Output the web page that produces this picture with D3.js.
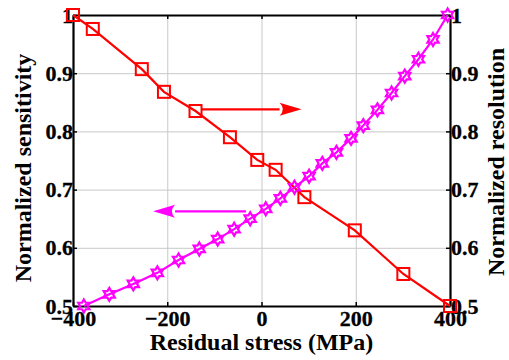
<!DOCTYPE html>
<html>
<head>
<meta charset="utf-8">
<script src="https://cdn.jsdelivr.net/npm/d3@7"></script>
<style>
  body { margin: 0; background: #fff; }
  svg { display: block; font-family: "Liberation Serif", "Times New Roman", serif; font-weight: bold; }
</style>
</head>
<body>
<div class="chart"></div>
<script>
// sensitivity curve (red squares)
var sensStress = [-400, -358, -254, -207, -140, -67, -9, 30, 91, 198, 301, 400];
var sensValue  = [1.0, 0.976, 0.907, 0.868, 0.835, 0.790, 0.751, 0.734, 0.687, 0.630, 0.555, 0.5];

// resolution curve (magenta stars)
var resStress = [-377, -323, -272, -221, -176, -132, -93, -58, -24, 9, 40, 70, 101, 129, 159, 190, 216, 246, 276, 304, 333, 364, 395];
var resValue  = [0.500, 0.520, 0.538, 0.557, 0.579, 0.598, 0.615, 0.632, 0.650, 0.667, 0.685, 0.704, 0.723, 0.745, 0.764, 0.788, 0.810, 0.837, 0.866, 0.895, 0.924, 0.958, 1.0];

var xTicks = [-400, -200, 0, 200, 400];
var yTicks = [0.5, 0.6, 0.7, 0.8, 0.9, 1];

var width = 509, height = 360;
var margin = {top: 15, right: 59, bottom: 54, left: 73};
var w = width - margin.left - margin.right,
    h = height - margin.top - margin.bottom;

var svg = d3.select(".chart").append("svg")
    .attr("width", width)
    .attr("height", height);

var g = svg.append("g")
    .attr("transform", "translate(" + margin.left + "," + margin.top + ")");

var x = d3.scaleLinear().domain([-400, 400]).range([0, w]);
var y = d3.scaleLinear().domain([0.5, 1]).range([h, 0]);

var fmtY = function(d) { return d === 1 ? "1" : d3.format(".1f")(d); };

// grid
g.append("g")
    .attr("class", "grid")
    .attr("transform", "translate(0," + h + ")")
    .call(d3.axisBottom(x).tickValues(xTicks).tickSize(-h).tickFormat(""));
g.append("g")
    .attr("class", "grid")
    .call(d3.axisLeft(y).tickValues(yTicks).tickSize(-w).tickFormat(""));
g.selectAll(".grid .domain").remove();
g.selectAll(".grid line").attr("stroke", "#c8c8c8").attr("stroke-width", 1);

// axes, ticks pointing inward
var ax = g.append("g")
    .attr("transform", "translate(0," + h + ")")
    .call(d3.axisBottom(x).tickValues(xTicks).tickSizeInner(-4).tickSizeOuter(0).tickPadding(4));
var axTop = g.append("g")
    .call(d3.axisTop(x).tickValues(xTicks).tickSizeInner(-4).tickSizeOuter(0).tickFormat(""));
var ayL = g.append("g")
    .call(d3.axisLeft(y).tickValues(yTicks).tickSizeInner(-4).tickSizeOuter(0).tickPadding(0).tickFormat(fmtY));
var ayR = g.append("g")
    .attr("transform", "translate(" + w + ",0)")
    .call(d3.axisRight(y).tickValues(yTicks).tickSizeInner(-4).tickSizeOuter(0).tickPadding(1).tickFormat(fmtY));

[ax, axTop, ayL, ayR].forEach(function(a) {
  a.attr("font-family", "Liberation Serif").attr("font-size", 22).attr("font-weight", "bold");
  a.select(".domain").attr("stroke", "#000").attr("stroke-width", 2.2);
  a.selectAll(".tick line").attr("stroke", "#000").attr("stroke-width", 1.5);
  a.selectAll(".tick text")
      .attr("fill", "#000")
      .style("font-size", "22px")
      .style("font-weight", "bold")
      .attr("stroke", "#000")
      .attr("stroke-width", 0.3);
});

// axis titles
g.append("text")
    .attr("x", w / 2)
    .attr("y", h + 44)
    .attr("text-anchor", "middle")
    .style("font-size", "24px")
    .text("Residual stress (MPa)");

svg.append("text")
    .attr("transform", "translate(31,168) rotate(-90)")
    .attr("text-anchor", "middle")
    .style("font-size", "24px")
    .text("Normalized sensitivity");

svg.append("text")
    .attr("transform", "translate(504,162) rotate(-90)")
    .attr("text-anchor", "middle")
    .style("font-size", "24px")
    .text("Normalized resolution");

// data
var sens = sensStress.map(function(s, i) { return [s, sensValue[i]]; });
var res = resStress.map(function(s, i) { return [s, resValue[i]]; });

var line = d3.line()
    .x(function(d) { return x(d[0]); })
    .y(function(d) { return y(d[1]); });

g.append("path")
    .datum(sens)
    .attr("fill", "none")
    .attr("stroke", "#ff0000")
    .attr("stroke-width", 2.2)
    .attr("d", line);

g.append("path")
    .datum(res)
    .attr("fill", "none")
    .attr("stroke", "#ff00ff")
    .attr("stroke-width", 2.2)
    .attr("d", line);

g.selectAll(".sq")
    .data(sens)
  .enter().append("rect")
    .attr("class", "sq")
    .attr("x", function(d) { return x(d[0]) - 6; })
    .attr("y", function(d) { return y(d[1]) - 6; })
    .attr("width", 12)
    .attr("height", 12)
    .attr("fill", "none")
    .attr("stroke", "#ff0000")
    .attr("stroke-width", 2);

// six-point star marker
function hexagram(R) {
  var r = R / Math.sqrt(3), pts = [];
  for (var k = 0; k < 12; k++) {
    var a = -Math.PI / 2 + k * Math.PI / 6;
    var rad = k % 2 === 0 ? R : r;
    pts.push([rad * Math.cos(a), rad * Math.sin(a)]);
  }
  return "M" + pts.join("L") + "Z";
}

g.selectAll(".star")
    .data(res)
  .enter().append("path")
    .attr("class", "star")
    .attr("transform", function(d) { return "translate(" + x(d[0]) + "," + y(d[1]) + ")"; })
    .attr("d", hexagram(6.5))
    .attr("fill", "none")
    .attr("stroke", "#ff00ff")
    .attr("stroke-width", 2.2);

// arrows (data coords)
function arrow(x0, x1, yv, color) {
  var dir = x1 > x0 ? 1 : -1;
  var px0 = x(x0), px1 = x(x1), py = y(yv);
  var headLen = 22, headH = 6.5;
  g.append("line")
      .attr("x1", px0).attr("x2", px1 - dir * headLen)
      .attr("y1", py).attr("y2", py)
      .attr("stroke", color).attr("stroke-width", 2.2);
  g.append("path")
      .attr("d", "M" + px1 + "," + py +
                 "L" + (px1 - dir * headLen) + "," + (py - headH) +
                 "Q" + (px1 - dir * headLen * 0.7) + "," + py + " " + (px1 - dir * headLen) + "," + (py + headH) + "Z")
      .attr("fill", color);
}
arrow(-128, 85, 0.838, "#ff0000");
arrow(-33, -230, 0.6626, "#ff00ff");
</script>
</body>
</html>
